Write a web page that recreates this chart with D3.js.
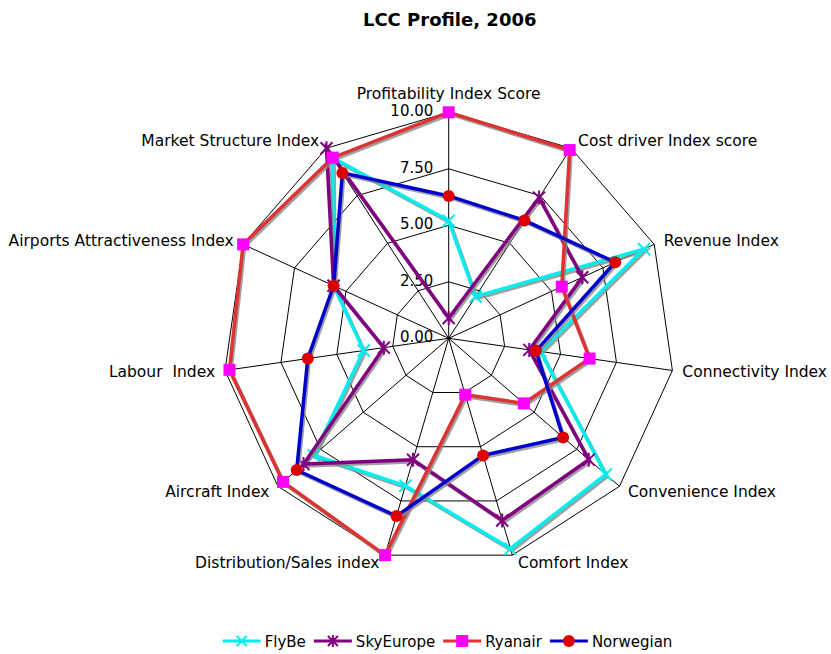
<!DOCTYPE html>
<html>
<head>
<meta charset="utf-8">
<script src="https://cdn.jsdelivr.net/npm/d3@7"></script>
<style>
  body { margin: 0; background: #fff; }
  text { font-family: "DejaVu Sans", Verdana, sans-serif; fill: #000; }
</style>
</head>
<body>
<script>
// axes of the radar, clockwise from the top
const axes = ['Profitability Index Score', 'Cost driver Index score', 'Revenue Index',
  'Connectivity Index', 'Convenience Index', 'Comfort Index', 'Distribution/Sales index',
  'Aircraft Index', 'Labour  Index', 'Airports Attractiveness Index', 'Market Structure Index']

const flybe     = [5.2, 2.2, 9.5, 4.1, 9.2, 9.7, 6.8, 7.9, 3.8, 5.6, 9.5]
const skyeurope = [0.9, 7.4, 6.5, 3.6, 8.2, 8.4, 5.6, 8.5, 2.9, 5.6, 10.0]
const ryanair   = [10.0, 9.9, 5.5, 6.3, 4.4, 2.6, 10.0, 9.7, 9.8, 10.0, 9.5]
const norwegian = [6.3, 6.2, 8.1, 3.9, 6.7, 5.4, 8.2, 8.9, 6.3, 5.6, 8.7]

const seriesNames = ['FlyBe', 'SkyEurope', 'Ryanair', 'Norwegian']
const tickValues = [0, 2.5, 5, 7.5, 10]
const tickLabels = ['0.00', '2.50', '5.00', '7.50', '10.00']

const frame = { width: 831, height: 654, cx: 448.7, cy: 338.3, radius: 226 }

const styles = [
  { line: '#00eeee', marker: 'cross', fill: '#00eeee' },
  { line: '#800080', marker: 'star', fill: '#800080' },
  { line: '#dd3333', marker: 'square', fill: '#ff00ff' },
  { line: '#0000cc', marker: 'circle', fill: '#dd0000' }
]

const svg = d3.select('body').append('svg')
  .attr('width', frame.width)
  .attr('height', frame.height)

svg.append('text')
  .attr('x', 449.7).attr('y', 26)
  .attr('text-anchor', 'middle')
  .style('font-weight', 'bold')
  .style('font-size', '18px')
  .text('LCC Profile, 2006')

const r = d3.scaleLinear().domain([0, 10]).range([0, frame.radius])
const angle = d3.scaleLinear().domain([0, axes.length]).range([0, 2 * Math.PI])

const g = svg.append('g').attr('transform', `translate(${frame.cx},${frame.cy})`)

const px = (i, v) => r(v) * Math.sin(angle(i))
const py = (i, v) => -r(v) * Math.cos(angle(i))

// grid rings
tickValues.slice(1).forEach(v => {
  g.append('path')
    .attr('d', d3.lineRadial().curve(d3.curveLinearClosed)
      .angle((d, i) => angle(i)).radius(() => r(v))(axes))
    .attr('fill', 'none').attr('stroke', '#000').attr('stroke-width', 1)
})

// spokes
axes.forEach((a, i) => {
  g.append('line')
    .attr('x1', 0).attr('y1', 0)
    .attr('x2', px(i, 10)).attr('y2', py(i, 10))
    .attr('stroke', '#000').attr('stroke-width', 1)
})

// tick labels
tickValues.forEach((v, k) => {
  g.append('text')
    .attr('x', -15.4).attr('y', -r(v) + 4)
    .attr('text-anchor', 'end')
    .style('font-size', '15px')
    .text(tickLabels[k])
})

// axis labels
axes.forEach((a, i) => {
  const s = Math.sin(angle(i)), c = Math.cos(angle(i))
  const x = px(i, 10), y = py(i, 10)
  const t = g.append('text').style('font-size', '15.5px').style('white-space', 'pre').text(a)
  if (Math.abs(s) < 0.01) {
    t.attr('x', x).attr('y', y - 13).attr('text-anchor', 'middle')
  } else {
    const off = 4 + 6 * Math.abs(s)
    t.attr('x', x + (s > 0 ? off : -off))
      .attr('y', y + 5 - 8 * c)
      .attr('text-anchor', s > 0 ? 'start' : 'end')
  }
})

function drawMarker(sel, type, fill, size) {
  if (type === 'square') {
    sel.append('rect').attr('x', -6).attr('y', -6).attr('width', 12).attr('height', 12).attr('fill', fill)
  } else if (type === 'circle') {
    sel.append('circle').attr('r', 6).attr('fill', fill)
  } else {
    const h = size
    sel.append('path')
      .attr('d', `M${-h},${-h}L${h},${h}M${-h},${h}L${h},${-h}` + (type === 'star' ? `M0,${-h - 1}L0,${h + 1}` : ''))
      .attr('stroke', fill).attr('stroke-width', 2).attr('fill', 'none')
  }
}

const allSeries = [flybe, skyeurope, ryanair, norwegian]
const radial = d3.lineRadial().curve(d3.curveLinearClosed)
  .angle((d, i) => angle(i)).radius(d => r(d))

allSeries.forEach((vals, k) => {
  const st = styles[k]
  g.append('path').attr('d', radial(vals))
    .attr('transform', 'translate(1.5,2)')
    .attr('fill', 'none').attr('stroke', '#888').attr('stroke-width', 3.5).attr('opacity', 0.8)
  g.append('path').attr('d', radial(vals))
    .attr('fill', 'none').attr('stroke', st.line).attr('stroke-width', 3.5)
  vals.forEach((v, i) => {
    const m = g.append('g').attr('transform', `translate(${px(i, v)},${py(i, v)})`)
    drawMarker(m, st.marker, st.fill, 6)
  })
})

// legend
const legend = svg.append('g')
let lx = 0
seriesNames.forEach((name, k) => {
  const st = styles[k]
  const it = legend.append('g').attr('transform', `translate(${lx},0)`)
  it.append('line').attr('x1', 0).attr('x2', 38).attr('y1', 0).attr('y2', 0)
    .attr('stroke', st.line).attr('stroke-width', 3)
  const m = it.append('g').attr('transform', 'translate(19,0)')
  drawMarker(m, st.marker, st.fill, 5)
  const t = it.append('text').attr('x', 42).attr('y', 5.5).style('font-size', '15px').text(name)
  lx += 42 + t.node().getComputedTextLength() + 8
})
const totalW = lx - 8
legend.attr('transform', `translate(${447.5 - totalW / 2},641)`)
</script>
</body>
</html>
